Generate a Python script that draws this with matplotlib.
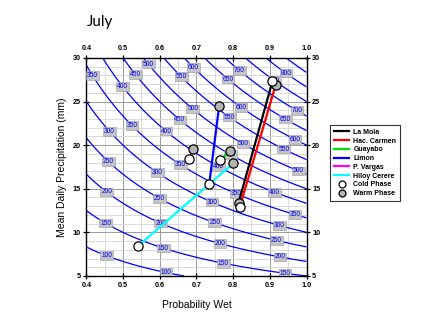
import numpy as np
import matplotlib
matplotlib.use("Agg")
import matplotlib.pyplot as plt
from matplotlib.lines import Line2D
from matplotlib.ticker import MultipleLocator

# Monthly rainfall isolines: total = days * P(wet) * mean wet-day rain
days_in_month = 30
iso_levels = list(range(100, 900, 50))

stations = ["La Mola", "Hac. Carmen", "Guayabo", "Limon", "P. Vargas", "Hiloy Cerere"]
station_colors = ["black", "red", "#00e000", "blue", "magenta", "cyan"]
cold_p = [0.907, 0.818, 0.765, 0.735, 0.680, 0.540]
cold_mm = [27.3, 12.9, 18.3, 15.6, 18.4, 8.4]
warm_p = [0.815, 0.916, 0.791, 0.762, 0.692, 0.800]
warm_mm = [13.4, 26.9, 19.3, 24.5, 19.5, 17.9]

# where the isoline values get printed
label_spots = [
    (0.419, 28.0), (0.569, 29.3), (0.537, 28.2), (0.500, 26.8), (0.696, 29.1),
    (0.660, 27.9), (0.691, 24.2), (0.655, 22.9), (0.619, 21.7), (0.523, 22.2),
    (0.466, 21.7), (0.819, 28.6), (0.787, 27.6), (0.946, 28.4), (0.914, 27.5),
    (0.823, 24.4), (0.791, 23.3), (0.982, 24.5), (0.950, 23.5), (0.969, 20.7),
    (0.939, 19.6), (0.828, 20.2), (0.796, 19.1), (0.460, 18.1), (0.593, 16.8),
    (0.655, 17.7), (0.455, 14.6), (0.598, 13.8), (0.602, 11.0), (0.453, 11.1),
    (0.609, 8.1), (0.455, 7.3), (0.617, 5.4), (0.978, 17.0), (0.914, 14.7),
    (0.810, 14.5), (0.741, 13.4), (0.969, 12.1), (0.928, 11.0), (0.750, 11.1),
    (0.764, 8.7), (0.917, 9.0), (0.928, 7.1), (0.773, 6.3), (0.941, 5.2),
    (0.762, 17.6),
]

plt.rcParams["font.family"] = ["Liberation Sans", "DejaVu Sans"]

fig = plt.figure(figsize=(4.36, 3.27), dpi=100)
ax = fig.add_axes([0.198, 0.156, 0.505, 0.667])

ax.set_xlim(0.4, 1.0)
ax.set_ylim(5, 30)

# grid: light minor lines, darker majors
ax.xaxis.set_major_locator(MultipleLocator(0.1))
ax.xaxis.set_minor_locator(MultipleLocator(0.05))
ax.yaxis.set_major_locator(MultipleLocator(5))
ax.yaxis.set_minor_locator(MultipleLocator(1))
ax.grid(which="minor", color="#d4d4d4", lw=0.6, zorder=0)
ax.grid(which="major", color="#9a9a9a", lw=0.7, zorder=0)
ax.set_axisbelow(True)

ax.tick_params(which="major", direction="inout", length=5, width=0.9,
               top=True, right=True, labeltop=True, labelright=True,
               labelsize=5.2, pad=1.5)
ax.tick_params(which="minor", length=0)
ax.xaxis.set_major_formatter(plt.FuncFormatter(lambda v, _: f"{v:.1f}"))
ax.yaxis.set_major_formatter(plt.FuncFormatter(lambda v, _: f"{v:.0f}"))
for lab in ax.xaxis.get_ticklabels(which="both") + ax.yaxis.get_ticklabels(which="both"):
    lab.set_fontweight("bold")
for side in ax.spines.values():
    side.set_linewidth(1.0)

pp, mm = np.meshgrid(np.linspace(0.4, 1.0, 400), np.linspace(5, 30, 400))
total = days_in_month * pp * mm
cs = ax.contour(pp, mm, total, levels=iso_levels, colors="blue",
                linewidths=0.9, zorder=2)
texts = ax.clabel(cs, manual=label_spots, inline=False, fmt="%d",
                  fontsize=4.8, colors="blue")
for t in texts:
    t.set_bbox(dict(boxstyle="square,pad=0.12", fc="#c4c4c4", ec="#999999", lw=0.4))
    t.set_rotation(0)
    t.set_zorder(3)

for name, col, cp, cm, wp, wm in zip(stations, station_colors,
                                      cold_p, cold_mm, warm_p, warm_mm):
    ax.plot([cp, wp], [cm, wm], color=col, lw=1.6, zorder=4, solid_capstyle="butt")

# markers: warm phase first, cold phase over them
ax.scatter(warm_p, warm_mm, s=44, facecolor="#b4b4b4", edgecolor="black",
           lw=0.9, zorder=5)
ax.scatter(cold_p, cold_mm, s=44, facecolor="white", edgecolor="black",
           lw=0.9, zorder=6)

ax.set_xlabel("Probability Wet", fontsize=7.5, labelpad=8)
ax.set_ylabel("Mean Daily Precipitation (mm)", fontsize=7.5, labelpad=4)

fig.text(0.2, 0.933, "July", fontsize=11, family=["Lato", "DejaVu Sans"],
         va="center", ha="left")

handles = [Line2D([], [], color=c, lw=1.6) for c in station_colors]
handles += [
    Line2D([], [], ls="none", marker="o", ms=5, mfc="white", mec="black", mew=0.9),
    Line2D([], [], ls="none", marker="o", ms=5, mfc="#b4b4b4", mec="black", mew=0.9),
]
leg = fig.legend(handles, stations + ["Cold Phase", "Warm Phase"],
                 loc="upper left", bbox_to_anchor=(0.75, 0.627),
                 fontsize=5, frameon=True, fancybox=False, edgecolor="black",
                 handlelength=2.2, handletextpad=0.6, labelspacing=0.25,
                 borderpad=0.5)
leg.get_frame().set_linewidth(0.8)
for t in leg.get_texts():
    t.set_fontweight("bold")

fig.savefig("out.png", dpi=100)
